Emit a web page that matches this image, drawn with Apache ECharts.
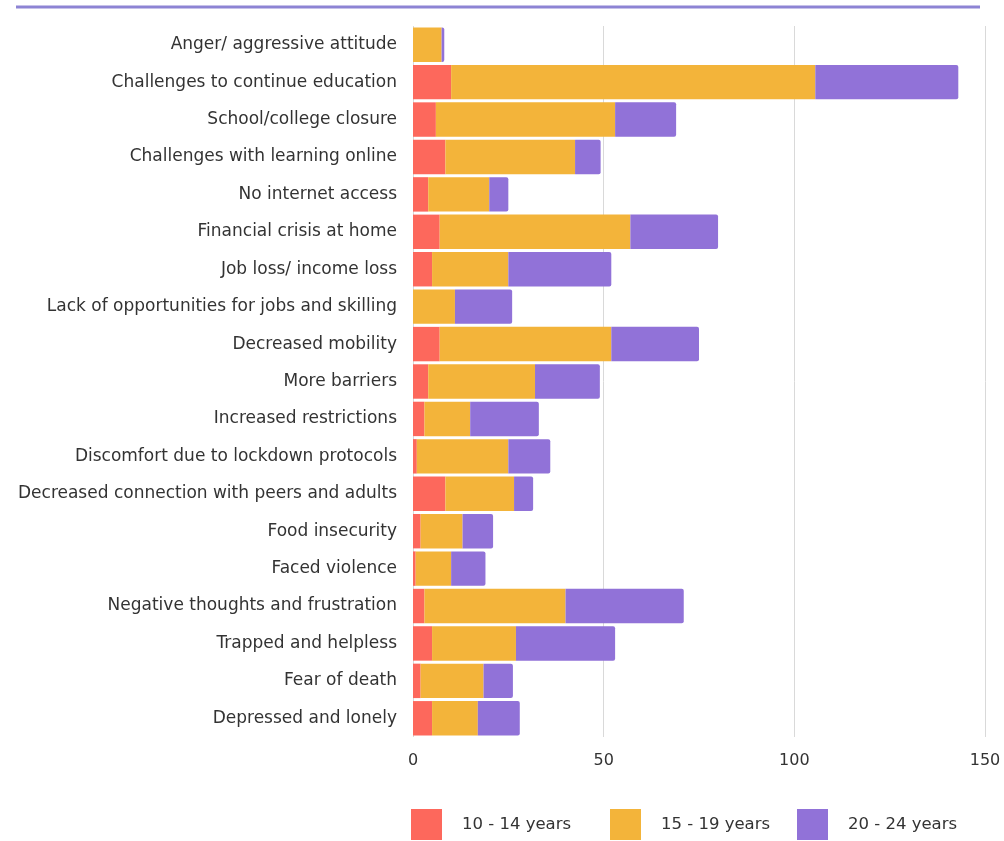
<!DOCTYPE html>
<html>
<head>
<meta charset="utf-8">
<script src="https://cdn.jsdelivr.net/npm/echarts@6/dist/echarts.min.js"></script>
<style>
html,body{margin:0;padding:0;background:#fff;}
#chart{width:1004px;height:841px;}
</style>
</head>
<body>
<div id="chart"></div>
<script>
const categories = [
  "Anger/ aggressive attitude",
  "Challenges to continue education",
  "School/college closure",
  "Challenges with learning online",
  "No internet access",
  "Financial crisis at home",
  "Job loss/ income loss",
  "Lack of opportunities for jobs and skilling",
  "Decreased mobility",
  "More barriers",
  "Increased restrictions",
  "Discomfort due to lockdown protocols",
  "Decreased connection with peers and adults",
  "Food insecurity",
  "Faced violence",
  "Negative thoughts and frustration",
  "Trapped and helpless",
  "Fear of death",
  "Depressed and lonely"
];
const age10to14 = [0, 10, 6, 8.5, 4, 7, 5, 0, 7, 4, 3, 1, 8.5, 2, 0.7, 3, 5, 2, 5];
const age15to19 = [7.5, 95.5, 47, 34, 16, 50, 20, 11, 45, 28, 12, 24, 18, 11, 9.3, 37, 22, 16.5, 12];
const age20to24 = [0.7, 37.5, 16, 6.7, 5, 23, 27, 15, 23, 17, 18, 11, 5, 8, 9, 31, 26, 7.7, 11];
const seriesNames = ["10 - 14 years", "15 - 19 years", "20 - 24 years"];
const xTicks = [0, 50, 100, 150];

const colors = ["#fd685c", "#f3b43a", "#9172d8"];
const font = "'DejaVu Sans', sans-serif";

const chart = echarts.init(document.getElementById('chart'), null, {renderer: 'canvas'});

function mkLegend(name, left) {
  return {
    data: [name],
    left: left,
    top: 809,
    orient: 'horizontal',
    icon: 'rect',
    itemWidth: 31,
    itemHeight: 31,
    padding: 0,
    selectedMode: false,
    textStyle: {
      fontFamily: font,
      fontSize: 16.5,
      color: '#333',
      padding: [0, 0, 0, 15]
    }
  };
}

chart.setOption({
  animation: false,
  color: colors,
  graphic: [{
    type: 'line',
    shape: {x1: 16, y1: 7, x2: 980, y2: 7},
    style: {stroke: '#8d84d4', lineWidth: 3}
  }],
  legend: [
    mkLegend(seriesNames[0], 411),
    mkLegend(seriesNames[1], 610),
    mkLegend(seriesNames[2], 797)
  ],
  grid: {left: 413, right: 19, top: 26, height: 711, containLabel: false},
  xAxis: {
    type: 'value',
    min: xTicks[0],
    max: xTicks[xTicks.length - 1],
    interval: 50,
    axisLine: {show: false},
    axisTick: {show: false},
    splitLine: {show: true, lineStyle: {color: '#d9d9d9', width: 1}},
    axisLabel: {
      fontFamily: font, fontSize: 16, color: '#333', margin: 16
    }
  },
  yAxis: {
    type: 'category',
    data: categories,
    inverse: true,
    axisLine: {show: false},
    axisTick: {show: false},
    axisLabel: {
      fontFamily: font, fontSize: 17, color: '#333', margin: 16
    }
  },
  series: [
    {name: seriesNames[0], type: 'bar', stack: 'a', data: age10to14, barCategoryGap: '8%', itemStyle: {color: colors[0]}},
    {name: seriesNames[1], type: 'bar', stack: 'a', data: age15to19, barCategoryGap: '8%', itemStyle: {color: colors[1]}},
    {name: seriesNames[2], type: 'bar', stack: 'a', data: age20to24, barCategoryGap: '8%', itemStyle: {color: colors[2], borderRadius: [0, 2, 2, 0]}}
  ]
});
</script>
</body>
</html>
